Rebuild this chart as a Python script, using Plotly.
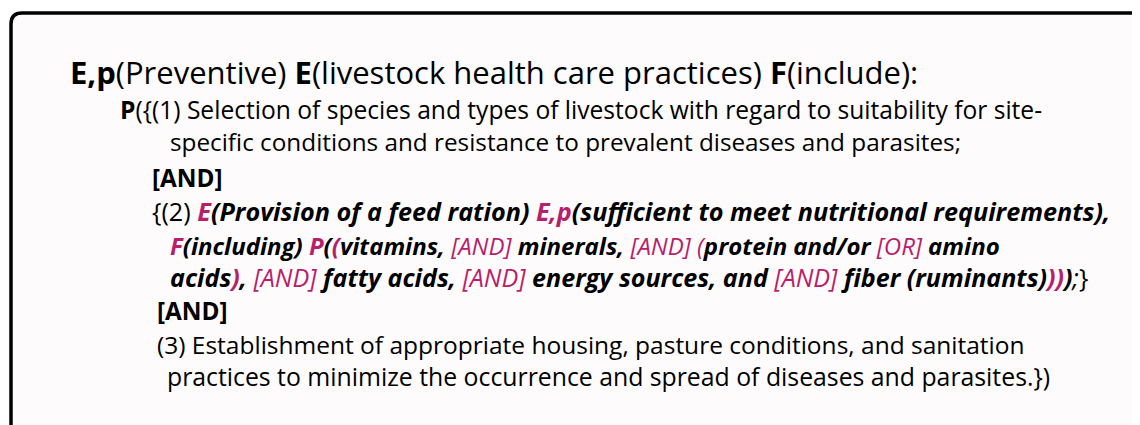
import plotly.graph_objects as go

MAG = "#B81F6B"
BLK = "#000000"

# Each line: (x_left, y_center, font_size, segments); segment = (text, color, bold, italic)
line_x = [68, 118, 168, 150, 150, 168, 168, 155, 155, 165]
line_y = [72, 109, 141, 177, 211, 245, 277, 310, 344, 376]
line_size = [31, 24.6, 24.3, 24.3, 25.2, 24.0, 25.1, 24.3, 24.5, 24.8]

line_segments = [
    [("E,p", BLK, 1, 0), ("(Preventive) ", BLK, 0, 0), ("E", BLK, 1, 0),
     ("(livestock health care practices) ", BLK, 0, 0), ("F", BLK, 1, 0), ("(include):", BLK, 0, 0)],
    [("P", BLK, 1, 0), ("({(1) Selection of species and types of livestock with regard to suitability for site-", BLK, 0, 0)],
    [("specific conditions and resistance to prevalent diseases and parasites;", BLK, 0, 0)],
    [("[AND]", BLK, 1, 0)],
    [("{(2) ", BLK, 0, 0), ("E", MAG, 1, 1), ("(Provision of a feed ration) ", BLK, 1, 1),
     ("E,p", MAG, 1, 1), ("(sufficient to meet nutritional requirements),", BLK, 1, 1)],
    [("F", MAG, 1, 1), ("(including) ", BLK, 1, 1), ("P", MAG, 1, 1), ("(", BLK, 1, 1), ("(", MAG, 1, 1),
     ("vitamins, ", BLK, 1, 1), ("[AND]", MAG, 0, 1), (" minerals, ", BLK, 1, 1), ("[AND] (", MAG, 0, 1),
     ("protein and/or ", BLK, 1, 1), ("[OR]", MAG, 0, 1), (" amino", BLK, 1, 1)],
    [("acids", BLK, 1, 1), (")", MAG, 1, 1), (", ", BLK, 1, 1), ("[AND]", MAG, 0, 1),
     (" fatty acids, ", BLK, 1, 1), ("[AND]", MAG, 0, 1), (" energy sources, and ", BLK, 1, 1),
     ("[AND]", MAG, 0, 1), (" fiber (ruminants)", BLK, 1, 1), ("))", MAG, 1, 1), (")", BLK, 1, 1),
     (";", BLK, 0, 1), ("}", BLK, 0, 0)],
    [("[AND]", BLK, 1, 0)],
    [("(3) Establishment of appropriate housing, pasture conditions, and sanitation", BLK, 0, 0)],
    [("practices to minimize the occurrence and spread of diseases and parasites.})", BLK, 0, 0)],
]


def seg_html(text, color, bold, italic):
    s = text
    if italic:
        s = "<i>" + s + "</i>"
    if bold:
        s = "<b>" + s + "</b>"
    return '<span style="color:%s">%s</span>' % (color, s)


fig = go.Figure()

# background fill and rounded border (top-left corner only visible)
fig.add_shape(type="rect", x0=11, y0=13, x1=1145, y1=430, line=dict(width=0),
              fillcolor="#FDFBFC", layer="below")
fig.add_shape(type="path", path="M 11,440 L 11,24 Q 11,13 22,13 L 1150,13",
              line=dict(color="black", width=3.5))

for x, y, size, segs in zip(line_x, line_y, line_size, line_segments):
    fig.add_annotation(
        x=x, y=y, xref="x", yref="y", xanchor="left", yanchor="middle",
        text="".join(seg_html(*s) for s in segs), showarrow=False,
        font=dict(family="Open Sans", size=size, color="black"), align="left",
    )

# page body has an 8px margin: map figure pixels so data coords == page pixels
fig.update_xaxes(range=[8, 1140], visible=False)
fig.update_yaxes(range=[425, 8], visible=False)
fig.update_layout(width=1132, height=417, margin=dict(l=0, r=0, t=0, b=0),
                  paper_bgcolor="white", plot_bgcolor="white", showlegend=False)

fig.write_html("out.html")
